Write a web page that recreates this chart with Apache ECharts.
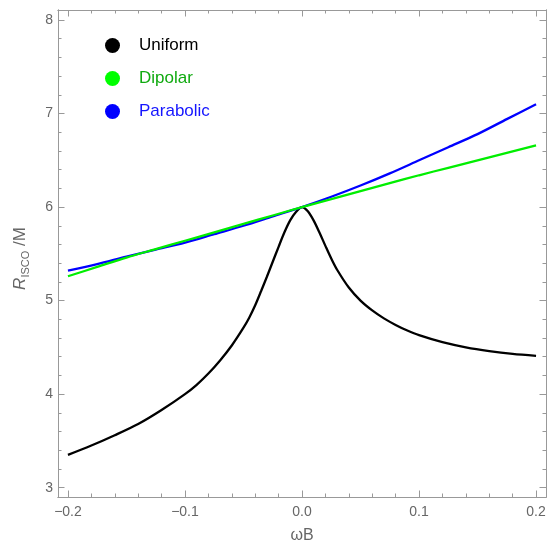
<!DOCTYPE html>
<html><head><meta charset="utf-8">
<script src="https://cdn.jsdelivr.net/npm/echarts@6/dist/echarts.min.js"></script>
<style>html,body{margin:0;padding:0;background:#fff}#c{width:549px;height:545px}</style>
</head><body><div id="c"></div>
<script>
// ---- data ----
const omegaUniform = [-0.2,-0.18,-0.16,-0.14,-0.12,-0.10,-0.09,-0.08,-0.07,-0.06,-0.05,-0.045,-0.04,-0.035,-0.03,-0.025,-0.02,-0.015,-0.01,-0.005,0,0.005,0.01,0.015,0.02,0.025,0.03,0.04,0.05,0.06,0.07,0.08,0.09,0.10,0.12,0.14,0.16,0.18,0.2];
const uniformR     = [3.35,3.45,3.56,3.68,3.83,4.00,4.10,4.22,4.36,4.52,4.71,4.82,4.95,5.10,5.255,5.415,5.575,5.73,5.86,5.95,6.00,5.955,5.855,5.725,5.585,5.45,5.33,5.14,5.00,4.895,4.81,4.74,4.68,4.63,4.555,4.50,4.46,4.43,4.41];
const omegaLinear  = [-0.2,-0.175,-0.15,-0.125,-0.1,-0.075,-0.05,-0.025,0,0.025,0.05,0.075,0.1,0.125,0.15,0.175,0.2];
const dipolarR     = [5.26,5.36,5.46,5.55,5.64,5.73,5.82,5.91,6.00,6.085,6.17,6.255,6.34,6.42,6.50,6.58,6.66];
const parabolicR   = [5.32,5.39,5.47,5.545,5.62,5.71,5.80,5.90,6.00,6.11,6.23,6.36,6.50,6.64,6.78,6.94,7.10];
const seriesNames  = ['Uniform','Dipolar','Parabolic'];
const xTickLabels  = [-0.2,-0.1,0,0.1,0.2];
const xMinorTicks  = [-0.18,-0.16,-0.14,-0.12,-0.08,-0.06,-0.04,-0.02,0.02,0.04,0.06,0.08,0.12,0.14,0.16,0.18];
const yTickLabels  = [3,4,5,6,7,8];
const yMinorTicks  = [3.2,3.4,3.6,3.8,4.2,4.4,4.6,4.8,5.2,5.4,5.6,5.8,6.2,6.4,6.6,6.8,7.2,7.4,7.6,7.8];

const XMIN = -0.2085, XMAX = 0.2085, YMIN = 2.9, YMAX = 8.107;
const AX = '#999999', LBL = '#666666', FONT = 'Liberation Sans, Arial, sans-serif';

function xFmt(v){ v = Math.round(v*10)/10; return (v < 0 ? '\u2212' : '') + Math.abs(v).toFixed(1); }

function mkX(pos, ticks, len, labels, extra){
  return Object.assign({
    type:'value', position:pos, min:XMIN, max:XMAX,
    axisLine:{show:true, onZero:false, lineStyle:{color:AX, width:1}},
    axisTick:{show:true, inside:true, length:len, customValues:ticks, lineStyle:{color:AX, width:1}},
    axisLabel:labels ? {show:true, customValues:xTickLabels, formatter:xFmt, color:LBL, fontSize:14, fontFamily:FONT, margin:8} : {show:false},
    splitLine:{show:false}
  }, extra||{});
}
function mkY(pos, ticks, len, labels, extra){
  return Object.assign({
    type:'value', position:pos, min:YMIN, max:YMAX,
    axisLine:{show:true, onZero:false, lineStyle:{color:AX, width:1}},
    axisTick:{show:true, inside:true, length:len, customValues:ticks, lineStyle:{color:AX, width:1}},
    axisLabel:labels ? {show:true, customValues:yTickLabels, formatter:v=>String(Math.round(v)), color:LBL, fontSize:14, fontFamily:FONT, margin:5} : {show:false},
    splitLine:{show:false}
  }, extra||{});
}

const chart = echarts.init(document.getElementById('c'), null, {renderer:'canvas'});
chart.setOption({
  backgroundColor:'#ffffff',
  animation:false,
  grid:{left:58, right:3, top:10, bottom:48, containLabel:false, outerBoundsMode:'none'},
  legend:{
    orient:'vertical', left:100, top:32, itemWidth:15, itemHeight:15, itemGap:16,
    icon:'circle',
    textStyle:{fontSize:17, fontFamily:FONT, padding:[0,0,0,14]},
    data:[
      {name:seriesNames[0], textStyle:{color:'#000000'}},
      {name:seriesNames[1], textStyle:{color:'#10aa10'}},
      {name:seriesNames[2], textStyle:{color:'#1515ff'}}
    ]
  },
  xAxis:[
    mkX('bottom', xTickLabels, 6.5, true, {
      name:'\u03c9B', nameLocation:'middle', nameGap:31,
      nameTextStyle:{color:LBL, fontSize:16, fontFamily:FONT}
    }),
    mkX('bottom', xMinorTicks, 3.5, false),
    mkX('top', xTickLabels, 6.5, false),
    mkX('top', xMinorTicks, 3.5, false)
  ],
  yAxis:[
    mkY('left', yTickLabels, 6.5, true, {
      name:'{r|R}{s|ISCO}{m| /M}', nameLocation:'middle', nameGap:27, nameRotate:90,
      nameTextStyle:{color:LBL, fontFamily:FONT, padding:[0,10,0,0], rich:{
        r:{fontSize:17, fontStyle:'italic', color:LBL, fontFamily:FONT, lineHeight:22, verticalAlign:'middle'},
        s:{fontSize:11, color:LBL, fontFamily:FONT, lineHeight:14, verticalAlign:'bottom'},
        m:{fontSize:17, color:LBL, fontFamily:FONT, lineHeight:22, verticalAlign:'middle'}
      }}
    }),
    mkY('left', yMinorTicks, 3.5, false),
    mkY('right', yTickLabels, 6.5, false),
    mkY('right', yMinorTicks, 3.5, false)
  ],
  series:[
    {name:seriesNames[0], type:'line', xAxisIndex:0, yAxisIndex:0, showSymbol:false, symbol:'none', smooth:0.3,
     color:'#000000', lineStyle:{color:'#000000', width:2.3}, z:3,
     data:omegaUniform.map((w,i)=>[w, uniformR[i]])},
    {name:seriesNames[1], type:'line', xAxisIndex:0, yAxisIndex:0, showSymbol:false, symbol:'none', smooth:0.3,
     color:'#00ff00', lineStyle:{color:'#00ee00', width:2.3}, z:4,
     data:omegaLinear.map((w,i)=>[w, dipolarR[i]])},
    {name:seriesNames[2], type:'line', xAxisIndex:0, yAxisIndex:0, showSymbol:false, symbol:'none', smooth:0.3,
     color:'#0000ff', lineStyle:{color:'#0000ff', width:2.3}, z:3,
     data:omegaLinear.map((w,i)=>[w, parabolicR[i]])}
  ]
});
</script></body></html>
